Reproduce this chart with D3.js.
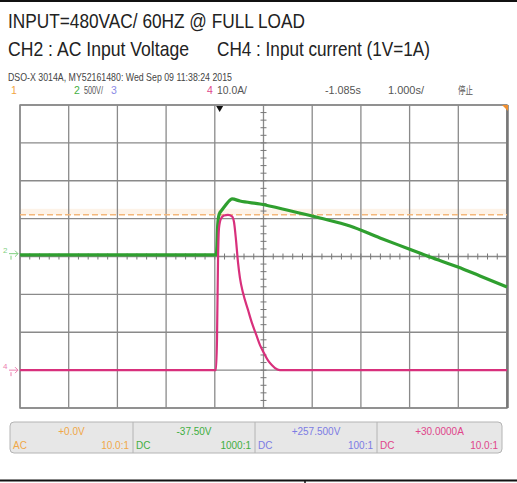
<!DOCTYPE html>
<html><head><meta charset="utf-8">
<script src="https://cdn.jsdelivr.net/npm/d3@7"></script>
<style>html,body{margin:0;padding:0;background:#fff;}svg{display:block;}</style>
</head><body>
<svg id="c" width="517" height="483"></svg>
<script>
// ---- data ----
const titleLines = ["INPUT=480VAC/ 60HZ @ FULL LOAD"];
const subtitleParts = ["CH2 : AC Input Voltage", "CH4 : Input current (1V=1A)"];
const scopeHeader = "DSO-X 3014A, MY52161480: Wed Sep 09 11:38:24 2015";
const channelRow = [
  {t:"1", c:"#f2a540"}, {t:"2", c:"#45b045"}, {t:"500V/", c:"#555"}, {t:"3", c:"#8a8ae6"},
  {t:"4", c:"#e0458a"}, {t:"10.0A/", c:"#555"}, {t:"-1.085s", c:"#555"}, {t:"1.000s/", c:"#555"}, {t:"停止", c:"#555"}
];
const infoOffsets = ["+0.0V", "-37.50V", "+257.500V", "+30.0000A"];
const infoCoupling = ["AC", "DC", "DC", "DC"];
const infoProbe = ["10.0:1", "1000:1", "100:1", "10.0:1"];
const infoColors = ["#f0a848", "#3fae3f", "#7c7ce4", "#e0458a"];

// time in seconds relative to screen centre (1 s/div)
const greenT = [-5.0, -0.97, -0.955, -0.94, -0.91, -0.85, -0.78, -0.70, -0.647, -0.483, -0.072, 0.544, 1.160, 1.776, 2.392, 2.988, 3.419, 3.994, 4.446, 5.0];
const greenV = [-15, -15, 100, 380, 520, 580, 640, 700, 722, 695, 655, 566, 470, 365, 207, 62, -44, -176, -295, -440];
const pinkT = [-5.0, -0.975, -0.955, -0.934, -0.914, -0.873, -0.811, -0.729, -0.647, -0.606, -0.565, -0.524, -0.483, -0.421, -0.318, -0.236, -0.154, -0.072, 0.010, 0.092, 0.175, 0.277, 0.339, 5.0];
const pinkI = [0, 0, 8.0, 29.1, 37.5, 40.0, 40.8, 41.0, 40.6, 39.1, 34.4, 28.5, 24.3, 20.4, 15.9, 12.4, 9.5, 6.6, 4.5, 2.6, 1.3, 0.2, 0, 0];
const trigLevelDiv = 1.1;   // orange ch1 level (divisions)
const trigTime = -0.9;      // trigger marker (s)

// ---- layout ----
const svg = d3.select("#c");
const L = 20, R = 507, T = 105, B = 408;
const x = d3.scaleLinear().domain([-5, 5]).range([L, R]);
const yDiv = d3.scaleLinear().domain([-4, 4]).range([B, T]);
const yV = d3.scaleLinear().domain([-37.5 - 4 * 500, -37.5 + 4 * 500]).range([B, T]);
const yA = d3.scaleLinear().domain([30 - 40, 30 + 40]).range([B, T]);

// frame lines
svg.append("line").attr("x1",0).attr("x2",517).attr("y1",1).attr("y2",1).attr("stroke","#111").attr("stroke-width",2);
svg.append("line").attr("x1",0).attr("x2",517).attr("y1",480.5).attr("y2",480.5).attr("stroke","#111").attr("stroke-width",2);
svg.append("line").attr("x1",305).attr("x2",305).attr("y1",480).attr("y2",483).attr("stroke","#111").attr("stroke-width",1.5);

// titles
const titleFont = "'Liberation Sans Narrow','Arial Narrow','Liberation Sans',Arial,sans-serif";
svg.append("text").attr("x",8).attr("y",28).attr("font-family",titleFont).attr("font-size",21)
  .attr("fill","#222").attr("textLength",297).attr("lengthAdjust","spacingAndGlyphs").text(titleLines[0]);
svg.append("text").attr("x",8).attr("y",56).attr("font-family",titleFont).attr("font-size",21)
  .attr("fill","#222").attr("textLength",181).attr("lengthAdjust","spacingAndGlyphs").text(subtitleParts[0]);
svg.append("text").attr("x",217).attr("y",56).attr("font-family",titleFont).attr("font-size",21)
  .attr("fill","#222").attr("textLength",213).attr("lengthAdjust","spacingAndGlyphs").text(subtitleParts[1]);

// scope header
const smallFont = "'Liberation Sans Narrow','Liberation Sans',Arial,'Noto Sans CJK SC',sans-serif";
svg.append("text").attr("x",8).attr("y",81).attr("font-family",smallFont).attr("font-size",10.5)
  .attr("fill","#444").attr("textLength",224).attr("lengthAdjust","spacingAndGlyphs").text(scopeHeader);
const rowX = [11, 74, 84, 111, 207, 217, 325, 388, 458];
const rowW = [null, null, 19, null, null, 30, 36, 36, 15];
channelRow.forEach((d,i)=>{
  const t = svg.append("text").attr("x",rowX[i]).attr("y",94).attr("font-family",smallFont).attr("font-size",10.5)
    .attr("fill",d.c).text(d.t);
  if (rowW[i]) t.attr("textLength",rowW[i]).attr("lengthAdjust","spacingAndGlyphs");
});

// plot area
svg.append("rect").attr("x",L).attr("y",T).attr("width",R-L).attr("height",B-T).attr("fill","#fff");
// faint ch1 level band
svg.append("rect").attr("x",L).attr("y",yDiv(trigLevelDiv)-6).attr("width",R-L).attr("height",6).attr("fill","#fdf3e8");

// grid
const g = svg.append("g");
d3.range(-5, 6, 1).forEach(v=>{
  g.append("line").attr("x1",x(v)).attr("x2",x(v)).attr("y1",T).attr("y2",B).attr("stroke","#8a8a8a").attr("stroke-width",1.3);
});
d3.range(-4, 5, 1).forEach(v=>{
  g.append("line").attr("x1",L).attr("x2",R).attr("y1",yDiv(v)).attr("y2",yDiv(v)).attr("stroke","#8a8a8a").attr("stroke-width",1.3);
});
// centre minor ticks
d3.range(-4, 4.001, 0.2).forEach(v=>{
  g.append("line").attr("x1",x(0)-3).attr("x2",x(0)+3).attr("y1",yDiv(v)).attr("y2",yDiv(v)).attr("stroke","#777").attr("stroke-width",1);
});
d3.range(-5, 5.001, 0.2).forEach(v=>{
  g.append("line").attr("x1",x(v)).attr("x2",x(v)).attr("y1",yDiv(0)-3).attr("y2",yDiv(0)+3).attr("stroke","#777").attr("stroke-width",1);
});
// border
svg.append("rect").attr("x",L).attr("y",T).attr("width",R-L).attr("height",B-T).attr("fill","none")
  .attr("stroke","#8a8a8a").attr("stroke-width",1.5);
svg.append("line").attr("x1",R+0.5).attr("x2",R+0.5).attr("y1",T).attr("y2",B).attr("stroke","#777").attr("stroke-width",2.5);

// ch1 level dashed
svg.append("line").attr("x1",L).attr("x2",R).attr("y1",yDiv(trigLevelDiv)).attr("y2",yDiv(trigLevelDiv))
  .attr("stroke","#f3b77a").attr("stroke-width",1.5).attr("stroke-dasharray","6,3");

// traces
const gData = greenT.map((t,i)=>[t, greenV[i]]);
const pData = pinkT.map((t,i)=>[t, pinkI[i]]);
svg.append("path").datum(gData).attr("fill","none").attr("stroke","#2f9f2f").attr("stroke-width",3.2)
  .attr("stroke-linejoin","round").attr("d", d3.line().x(d=>x(d[0])).y(d=>yV(d[1])).curve(d3.curveMonotoneX));
svg.append("path").datum(pData).attr("fill","none").attr("stroke","#d8307c").attr("stroke-width",2.2)
  .attr("stroke-linejoin","round").attr("d", d3.line().x(d=>x(d[0])).y(d=>yA(d[1])).curve(d3.curveMonotoneX));

// trigger marker
const tx = x(trigTime);
svg.append("path").attr("d",`M${tx-3.5},${T+1}L${tx+3.5},${T+1}L${tx},${T+7}Z`).attr("fill","#111");
// top-right orange marker
svg.append("path").attr("d",`M${R-5},${T}L${R+1},${T}L${R+1},${T+6}Z`).attr("fill","#f09030");

// ground markers
function gnd(yy, label, col){
  const m = svg.append("g").attr("transform",`translate(3,${yy})`);
  m.append("text").attr("x",0).attr("y",-1).attr("font-family",smallFont).attr("font-size",8).attr("fill",col).text(label);
  m.append("path").attr("d","M6,0L15,0M12,-3L15,0L12,3M8,2L8,6").attr("stroke",col).attr("stroke-width",1).attr("fill","none");
}
gnd(yV(0), "2", "#7fcf7f");
gnd(yA(0), "4", "#ec7fb0");

// info box
const bx = 10, by = 422, bw = 492, bh = 31;
svg.append("rect").attr("x",bx).attr("y",by).attr("width",bw).attr("height",bh).attr("rx",4)
  .attr("fill","#e7e7e7").attr("stroke","#b4b4b4").attr("stroke-width",1);
const cellEdges = [bx, 133, 255, 377, bx + bw];
[133,255,377].forEach(v=>{
  svg.append("line").attr("x1",v).attr("x2",v).attr("y1",by).attr("y2",by+bh).attr("stroke","#b4b4b4");
});
infoOffsets.forEach((s,i)=>{
  const x0 = cellEdges[i], x1 = cellEdges[i+1], c = infoColors[i];
  svg.append("text").attr("x",(x0+x1)/2).attr("y",435).attr("text-anchor","middle").attr("font-family",smallFont)
    .attr("font-size",10).attr("fill",c).text(s);
  svg.append("text").attr("x",x0+3).attr("y",449).attr("font-family",smallFont).attr("font-size",10).attr("fill",c).text(infoCoupling[i]);
  svg.append("text").attr("x",x1-4).attr("y",449).attr("text-anchor","end").attr("font-family",smallFont).attr("font-size",10).attr("fill",c).text(infoProbe[i]);
});
</script>
</body></html>
